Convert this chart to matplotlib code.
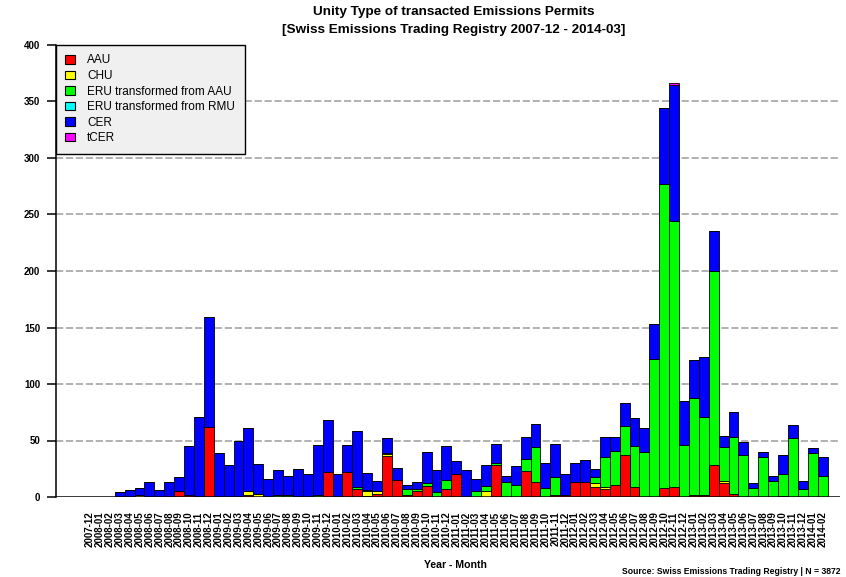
import matplotlib
matplotlib.use("Agg")
import matplotlib.pyplot as plt
from matplotlib.patches import Patch
import numpy as np
import pandas as pd

plt.rcParams['font.family'] = ['Liberation Sans', 'DejaVu Sans']

# monthly counts of transacted units
months = [p.strftime('%Y-%m') for p in pd.period_range('2007-12', '2014-02', freq='M')]

aau = [0, 0, 0, 0, 0, 0, 0, 0, 0, 5, 2, 0, 62,
       0, 0, 0, 2, 0, 0, 0, 0, 0, 0, 0, 22,
       0, 22, 7, 1, 3, 36, 15, 2, 5, 10, 0, 7,
       20, 0, 0, 0, 28, 0, 0, 23, 13, 0, 2, 2,
       13, 13, 9, 7, 11, 37, 9, 0, 0, 8, 9, 0,
       2, 2, 28, 12, 3, 0, 0, 0, 0, 0, 0, 0,
       0, 0]
chu = [0, 0, 0, 0, 0, 2, 0, 0, 0, 0, 0, 0, 0,
       0, 0, 0, 3, 3, 0, 0, 0, 0, 0, 0, 0,
       0, 0, 0, 4, 2, 2, 0, 0, 0, 0, 0, 0,
       0, 0, 0, 5, 0, 0, 0, 0, 0, 0, 0, 0,
       0, 0, 3, 2, 0, 0, 0, 0, 0, 0, 0, 0,
       0, 0, 0, 2, 0, 0, 0, 0, 0, 1, 0, 0,
       0, 0]
eru_aau = [0, 0, 0, 0, 0, 0, 0, 0, 0, 0, 0, 0, 0,
           0, 0, 0, 0, 0, 0, 2, 2, 0, 0, 2, 0,
           0, 0, 2, 1, 0, 1, 0, 5, 2, 2, 4, 8,
           0, 0, 5, 5, 2, 13, 11, 11, 31, 8, 16, 0,
           0, 0, 6, 26, 30, 26, 36, 40, 122, 269, 235, 46,
           86, 69, 172, 30, 50, 37, 8, 35, 14, 19, 52, 7,
           39, 19]
eru_rmu = [0] * 75
cer = [0, 0, 0, 4, 6, 6, 13, 6, 13, 13, 43, 71, 97,
       39, 28, 50, 56, 26, 16, 22, 17, 25, 20, 44, 46,
       20, 24, 49, 15, 9, 13, 11, 4, 6, 28, 20, 30,
       12, 24, 11, 18, 17, 6, 16, 19, 21, 22, 29, 18,
       17, 20, 7, 18, 12, 20, 25, 21, 31, 67, 121, 39,
       33, 53, 35, 10, 22, 12, 4, 5, 5, 17, 12, 7,
       4, 16]
tcer = [0] * 75
tcer[59] = 1

series = ['AAU', 'CHU', 'ERU transformed from AAU', 'ERU transformed from RMU', 'CER', 'tCER']
values = [aau, chu, eru_aau, eru_rmu, cer, tcer]
colors = ['#ff0000', '#ffff00', '#00ff00', '#00ffff', '#0000ff', '#ff00ff']

fig = plt.figure(figsize=(8.46, 5.77), dpi=100)
ax = fig.add_axes([56 / 846, 80 / 577, 784 / 846, 452 / 577])

x = np.arange(len(months))
step = 9.9
ax.set_xlim((56 - 90) / step, (840 - 90) / step)
ax.set_ylim(0, 400)

# dashed reference lines
for gy in range(50, 400, 50):
    ax.plot(ax.get_xlim(), [gy, gy], color='#ababab', lw=1.3,
            ls=(0, (4, 1.5)), zorder=0)

bottom = np.zeros(len(months))
for name, vals, col in zip(series, values, colors):
    vals = np.asarray(vals, dtype=float)
    ax.bar(x, vals, width=1.0, bottom=bottom, color=col,
           edgecolor='black', linewidth=0.6, zorder=2)
    bottom += vals

ax.axhline(0, color='black', lw=1.8, zorder=3)

for s in ['top', 'right', 'bottom']:
    ax.spines[s].set_visible(False)
ax.spines['left'].set_linewidth(1.1)
ax.set_yticks(range(0, 401, 50))
ax.tick_params(axis='y', length=6.5, width=1.1, pad=5, labelsize=7)
for t in ax.get_yticklabels():
    t.set_fontweight('bold')
ax.set_xticks(x)
ax.set_xticklabels(months, rotation=90, fontsize=7, fontweight='bold')
ax.tick_params(axis='x', length=0, pad=10.5)

handles = [Patch(facecolor=c, edgecolor='black', linewidth=0.8) for c in colors]
leg = ax.legend(handles, series, loc='upper left', bbox_to_anchor=(0, 1),
                borderaxespad=0, fontsize=8.5, frameon=True, fancybox=False,
                handlelength=0.8, handleheight=0.75, handletextpad=1.05,
                labelspacing=0.3, borderpad=0.8)
leg.get_frame().set_facecolor('#f0f0f0')
leg.get_frame().set_edgecolor('black')
leg.get_frame().set_linewidth(1.0)
leg.get_frame().set_alpha(1)
leg.set_zorder(5)

fig.text(454 / 846, 1 - 6 / 577,
         'Unity Type of transacted Emissions Permits\n'
         '[Swiss Emissions Trading Registry 2007-12 - 2014-03]',
         ha='center', va='top', fontsize=9.7, fontweight='bold', linespacing=1.65)
fig.text(455 / 846, 1 - 565 / 577, 'Year - Month', ha='center', va='center',
         fontsize=7.6, fontweight='bold')
fig.text(840 / 846, 1 / 577, 'Source: Swiss Emissions Trading Registry | N = 3872',
         ha='right', va='bottom', fontsize=6.2, fontweight='bold')

fig.savefig('out.png', dpi=100)
